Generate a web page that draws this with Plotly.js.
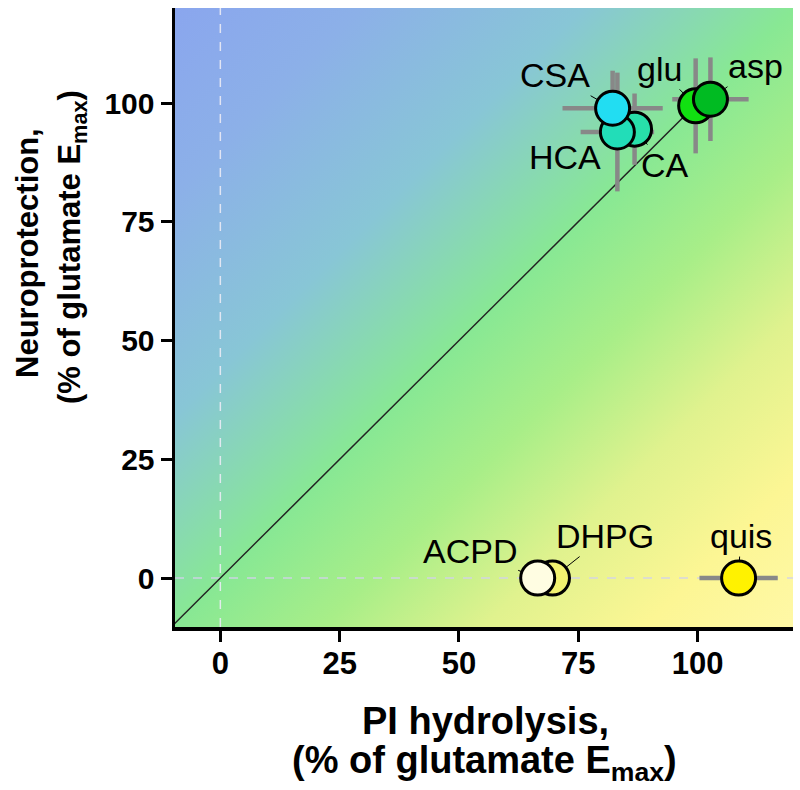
<!DOCTYPE html>
<html>
<head>
<meta charset="utf-8">
<script src="https://cdn.plot.ly/plotly-3.0.1.min.js"></script>
<style>html,body{margin:0;padding:0;background:#fff;}#chart{width:800px;height:790px;}</style>
</head>
<body>
<div id="chart"></div>
<script>
// ---- data ----
var compounds = ['CA', 'HCA', 'CSA', 'glu', 'asp', 'DHPG', 'ACPD', 'quis'];
var piHydrolysis = [86.8, 83.2, 82.2, 99.6, 102.7, 69.6, 66.5, 108.6];
var neuroprotection = [94.5, 93.9, 98.9, 99.4, 100.8, 0, 0, 0];
var piHydrolysisErr = [0, 7.7, 10.5, 0, 8, 0, 0, 8.2];
var neuroprotectionErr = [7.5, 12.5, 7.9, 10, 8.8, 0, 0, 0];
var identityLine = [-10, 100];
var xTicks = [0, 25, 50, 75, 100];
var yTicks = [0, 25, 50, 75, 100];

// ---- styles ----
var markerColors = ['#28E0AA', '#22DDB8', '#22DDF2', '#11E011', '#00BB22', '#F2F270', '#FFFDE2', '#FFF200'];
var labelOffsets = {
  CA: [30, 36], HCA: [-52, 25], CSA: [-58, -33], glu: [-36, -37], asp: [45, -33],
  DHPG: [53, -42], ACPD: [-68, -27], quis: [2, -42]
};

// plot-area pixel frame
var L = 175, R = 7, T = 8, B = 163, W = 800, H = 790;
var pw = W - L - R, ph = H - T - B;

// background gradient image
var cv = document.createElement('canvas');
cv.width = pw; cv.height = ph;
var ctx = cv.getContext('2d');
var g = ctx.createLinearGradient(0, 0, pw, ph);
g.addColorStop(0.00, '#8AA6EE');
g.addColorStop(0.15, '#8CB0E8');
g.addColorStop(0.33, '#88C6D6');
g.addColorStop(0.50, '#88E894');
g.addColorStop(0.62, '#A8EE88');
g.addColorStop(0.75, '#E0F28E');
g.addColorStop(0.88, '#FCF694');
g.addColorStop(1.00, '#FFF8A6');
ctx.fillStyle = g;
ctx.fillRect(0, 0, pw, ph);
var bgSrc = cv.toDataURL('image/png');

function px2paperX(px) { return (px - L) / pw; }
function px2paperY(py) { return (H - B - py) / ph; }

var traces = [
  {
    x: identityLine, y: identityLine, mode: 'lines', type: 'scatter',
    line: {color: '#222222', width: 1.5}, hoverinfo: 'skip', showlegend: false
  },
  {
    x: piHydrolysis, y: neuroprotection, mode: 'markers', type: 'scatter',
    marker: {size: 2, color: 'rgba(0,0,0,0)'},
    error_x: {type: 'data', array: piHydrolysisErr, visible: true, color: '#888888', thickness: 4.5, width: 0},
    error_y: {type: 'data', array: neuroprotectionErr, visible: true, color: '#888888', thickness: 4.5, width: 0},
    hoverinfo: 'skip', showlegend: false
  },
  {
    x: piHydrolysis, y: neuroprotection, text: compounds, mode: 'markers', type: 'scatter',
    marker: {size: 34, color: markerColors, line: {color: '#000000', width: 3}},
    showlegend: false
  }
];

var annotations = compounds.map(function (c, i) {
  var o = labelOffsets[c];
  return {
    x: piHydrolysis[i], y: neuroprotection[i], xref: 'x', yref: 'y', text: c,
    showarrow: true, arrowhead: 0, arrowwidth: 1, arrowcolor: '#000000',
    ax: o[0], ay: o[1], standoff: 17,
    font: {family: 'Liberation Sans, Arial, sans-serif', size: 34, color: '#000000'}
  };
});

var titleFontX = {family: 'Liberation Sans, Arial, sans-serif', size: 38, color: '#000', weight: 'bold'};
var titleFontY = {family: 'Liberation Sans, Arial, sans-serif', size: 31, color: '#000', weight: 'bold'};
annotations.push(
  {xref: 'paper', yref: 'paper', x: px2paperX(485), y: px2paperY(721), xanchor: 'center', yanchor: 'middle',
   showarrow: false, text: '<b>PI hydrolysis,</b>', font: titleFontX},
  {xref: 'paper', yref: 'paper', x: px2paperX(484), y: px2paperY(763), xanchor: 'center', yanchor: 'middle',
   showarrow: false, text: '<b>(% of glutamate E<sub>max</sub>)</b>', font: titleFontX},
  {xref: 'paper', yref: 'paper', x: px2paperX(27), y: px2paperY(253), xanchor: 'center', yanchor: 'middle',
   showarrow: false, textangle: -90, text: '<b>Neuroprotection,</b>', font: titleFontY},
  {xref: 'paper', yref: 'paper', x: px2paperX(72), y: px2paperY(247), xanchor: 'center', yanchor: 'middle',
   showarrow: false, textangle: -90, text: '<b>(% of glutamate E<sub>max</sub>)</b>', font: titleFontY}
);

var layout = {
  width: W, height: H,
  margin: {l: L, r: R, t: T, b: B, pad: 0},
  paper_bgcolor: '#ffffff', plot_bgcolor: 'rgba(0,0,0,0)',
  showlegend: false,
  xaxis: {
    range: [-9.5, 120], tickvals: xTicks, ticktext: xTicks.map(String),
    showgrid: false, zeroline: false, showline: true, linecolor: '#000', linewidth: 3.5,
    ticks: 'outside', ticklen: 11, tickwidth: 3, tickcolor: '#000', ticklabelstandoff: -5,
    tickfont: {family: 'Liberation Sans, Arial, sans-serif', size: 31, color: '#000', weight: 'bold'},
    fixedrange: true
  },
  yaxis: {
    range: [-10.3, 120], tickvals: yTicks, ticktext: yTicks.map(String),
    showgrid: false, zeroline: false, showline: true, linecolor: '#000', linewidth: 3.5,
    ticks: 'outside', ticklen: 11, tickwidth: 3, tickcolor: '#000',
    tickfont: {family: 'Liberation Sans, Arial, sans-serif', size: 30, color: '#000', weight: 'bold'},
    fixedrange: true
  },
  images: [{
    source: bgSrc, xref: 'paper', yref: 'paper', x: 0, y: 1, sizex: 1, sizey: 1,
    xanchor: 'left', yanchor: 'top', sizing: 'stretch', layer: 'below'
  }],
  shapes: [
    {type: 'line', xref: 'x', yref: 'paper', x0: 0, x1: 0, y0: 0, y1: 1, layer: 'below',
     line: {color: 'rgba(235,235,245,0.9)', width: 1.5, dash: 'dash'}},
    {type: 'line', xref: 'paper', yref: 'y', x0: 0, x1: 1, y0: 0, y1: 0, layer: 'below',
     line: {color: 'rgba(210,210,235,0.9)', width: 1.5, dash: 'dash'}}
  ],
  annotations: annotations
};

Plotly.newPlot('chart', traces, layout, {displayModeBar: false, staticPlot: true});
</script>
</body>
</html>
